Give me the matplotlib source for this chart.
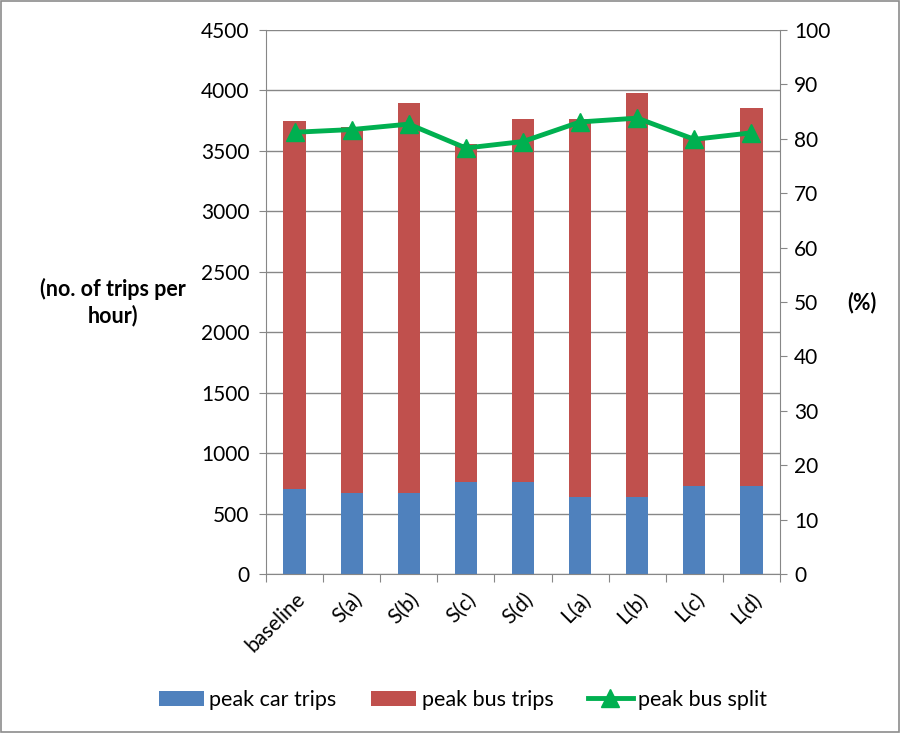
import matplotlib
matplotlib.use("Agg")
import matplotlib.pyplot as plt
from matplotlib.patches import Rectangle

plt.rcParams['font.family'] = ['Lato', 'DejaVu Sans']

# data
scenarios = ['baseline', 'S(a)', 'S(b)', 'S(c)', 'S(d)', 'L(a)', 'L(b)', 'L(c)', 'L(d)']
car_trips = [700, 670, 670, 765, 765, 635, 635, 730, 730]
total_trips = [3745, 3700, 3895, 3555, 3765, 3765, 3978, 3605, 3858]
bus_trips = [t - c for t, c in zip(total_trips, car_trips)]
bus_split = [81.2, 81.7, 82.7, 78.3, 79.5, 83.1, 83.8, 79.9, 81.1]

blue = '#4F81BD'
red = '#C0504D'
green = '#00B050'
grid_col = '#878787'
fs = 15

fig = plt.figure(figsize=(9.01, 7.33), dpi=100)
fig.patches.append(Rectangle((0.001, 0.001), 0.997, 0.997, transform=fig.transFigure,
                             fill=False, edgecolor='#8c8c8c', linewidth=1.2))

ax = fig.add_axes([266 / 901, 1 - 574 / 733, (780 - 266) / 901, (574 - 30) / 733])
x = list(range(len(scenarios)))
w = 0.39

ax.bar(x, car_trips, width=w, color=blue, label='peak car trips', zorder=2)
ax.bar(x, bus_trips, width=w, bottom=car_trips, color=red, label='peak bus trips', zorder=2)

ax.set_xlim(-0.5, len(scenarios) - 0.5)
ax.set_ylim(0, 4500)
ax.set_yticks(range(0, 4501, 500))
ax.yaxis.grid(True, color=grid_col, linewidth=1.0, zorder=0)
ax.set_axisbelow(True)

ax.set_xticks([i - 0.5 for i in range(len(scenarios) + 1)], minor=False)
ax.set_xticklabels([''] * (len(scenarios) + 1))
ax.set_xticks(x, minor=True)
ax.set_xticklabels(scenarios, minor=True, rotation=45, ha='right', rotation_mode='anchor',
                   fontsize=fs)
ax.tick_params(axis='x', which='minor', length=0, pad=11)
ax.tick_params(axis='x', which='major', length=6, color=grid_col, direction='out')
ax.tick_params(axis='y', length=5, color=grid_col, labelsize=fs, direction='out', pad=7)

for s in ['top', 'right']:
    ax.spines[s].set_visible(False)
for s in ['left', 'bottom']:
    ax.spines[s].set_color(grid_col)

ax2 = ax.twinx()
ax2.plot(x, bus_split, color=green, linewidth=3.5, marker='^', markersize=13,
         label='peak bus split', zorder=3)
ax2.set_ylim(0, 100)
ax2.set_yticks(range(0, 101, 10))
ax2.tick_params(axis='y', length=5, color=grid_col, labelsize=fs, direction='out', pad=5)
for s in ['top', 'left', 'bottom']:
    ax2.spines[s].set_visible(False)
ax2.spines['right'].set_color(grid_col)

fig.text(113 / 901, 1 - 302 / 733, '(no. of trips per\nhour)', ha='center', va='center',
         fontsize=15.5, fontweight='bold', linespacing=1.3)
fig.text(862 / 901, 1 - 303 / 733, '(%)', ha='center', va='center',
         fontsize=15.5, fontweight='bold')

h1, l1 = ax.get_legend_handles_labels()
h2, l2 = ax2.get_legend_handles_labels()
fig.legend(h1 + h2, l1 + l2, loc='center', bbox_to_anchor=(463 / 901, 1 - 700 / 733),
           ncol=3, frameon=False, fontsize=15.5, handlelength=2.1, columnspacing=1.6,
           handletextpad=0.25)

fig.savefig('out.png', dpi=100)
